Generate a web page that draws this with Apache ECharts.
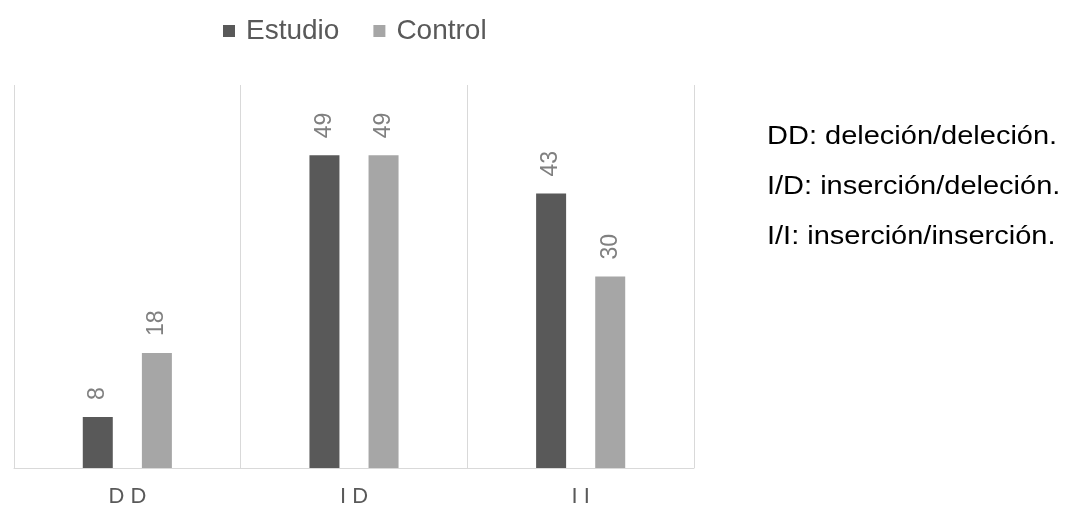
<!DOCTYPE html>
<html>
<head>
<meta charset="utf-8">
<script src="https://cdn.jsdelivr.net/npm/echarts@6/dist/echarts.min.js"></script>
<style>
  html, body { margin: 0; padding: 0; background: #fff; }
  #chart { width: 1066px; height: 508px; }
</style>
</head>
<body>
<div id="chart"></div>
<script>
// Genotype frequencies by group
const categories = ['DD', 'ID', 'II'];
const estudio = [8, 49, 43];
const control = [18, 49, 30];
const notes = [
  'DD: deleción/deleción.',
  'I/D: inserción/deleción.',
  'I/I: inserción/inserción.'
];

const FONT = 'Liberation Sans, Arial, Helvetica, sans-serif';
const chart = echarts.init(document.getElementById('chart'));

const valueLabel = {
  show: true,
  position: 'top',
  rotate: 90,
  align: 'left',
  verticalAlign: 'middle',
  distance: 17,
  color: '#808080',
  fontSize: 23,
  fontFamily: FONT
};

chart.setOption({
  backgroundColor: '#ffffff',
  animation: false,
  legend: {
    top: 12,
    left: 218,
    itemWidth: 12,
    itemHeight: 12,
    itemGap: 34,
    icon: 'rect',
    textStyle: { color: '#595959', fontSize: 28, fontFamily: FONT, padding: [0, 0, 0, 6] },
    data: ['Estudio', 'Control']
  },
  grid: { left: 14, right: 372, top: 85, bottom: 40 },
  xAxis: {
    type: 'category',
    data: categories,
    boundaryGap: true,
    axisLine: { lineStyle: { color: '#d9d9d9', width: 1 } },
    axisTick: { show: false },
    splitLine: { show: true, lineStyle: { color: '#d9d9d9', width: 1 } },
    axisLabel: {
      color: '#595959',
      fontSize: 22,
      margin: 18,
      fontFamily: FONT,
      formatter: v => v.split('').join(' ')
    }
  },
  yAxis: {
    type: 'value',
    min: 0,
    max: 60,
    show: false,
    splitLine: { show: false }
  },
  series: [
    {
      name: 'Estudio',
      type: 'bar',
      data: estudio,
      barWidth: 30,
      barGap: '97%',
      itemStyle: { color: '#595959' },
      label: valueLabel
    },
    {
      name: 'Control',
      type: 'bar',
      data: control,
      barWidth: 30,
      itemStyle: { color: '#a6a6a6' },
      label: valueLabel
    }
  ],
  // explanatory notes beside the chart
  graphic: notes.map((t, i) => ({
    type: 'text',
    x: 767,
    y: 137 + i * 50,
    scaleY: 0.9,
    style: {
      text: t,
      x: 0,
      y: 0,
      fill: '#000000',
      fontSize: 29,
      fontFamily: FONT,
      textVerticalAlign: 'middle',
      verticalAlign: 'middle'
    }
  }))
});
</script>
</body>
</html>
